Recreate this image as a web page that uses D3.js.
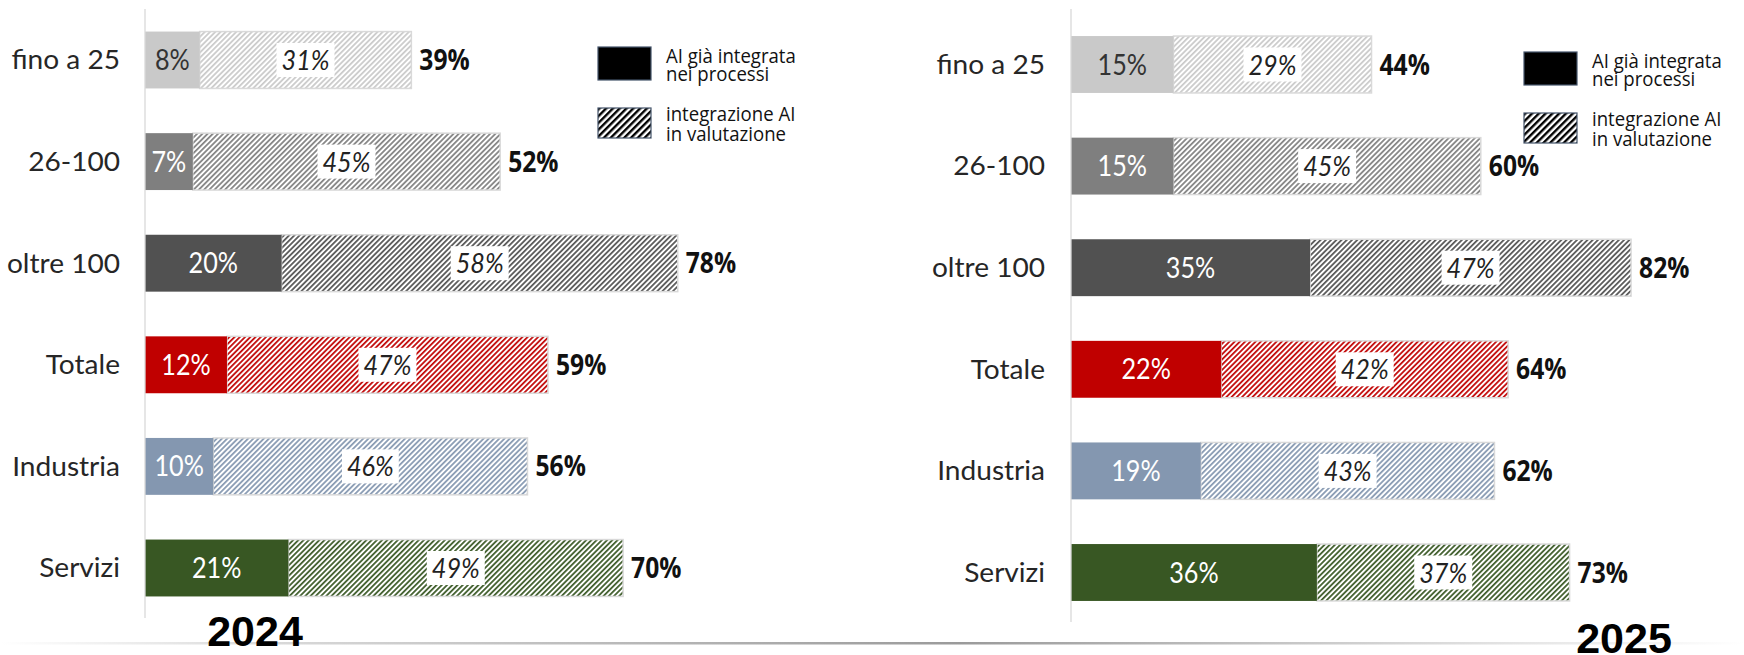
<!DOCTYPE html>
<html>
<head>
<meta charset="utf-8">
<title>AI nelle imprese 2024 - 2025</title>
<script src="https://d3js.org/d3.v7.min.js"></script>
<style>
    html, body { margin: 0; padding: 0; background: #fff; }
    svg { display: block; }
    .cat { font-family: Lato, "Open Sans", sans-serif; font-weight: 400; font-size: 26px; fill: #262626; }
    .seg { font-family: Lato, "Open Sans", sans-serif; font-weight: 400; font-size: 28px; }
    .tot { font-family: "Open Sans", sans-serif; font-weight: 700; font-size: 28px; fill: #111; }
    .leg { font-family: "Open Sans", sans-serif; font-size: 20px; fill: #111; }
    .year { font-family: "Liberation Sans", Arial, sans-serif; font-weight: 700; font-size: 43px; fill: #000; }
</style>
</head>
<body>
<svg id="chart" width="1744" height="655"></svg>
<script>
const categories = ['fino a 25', '26-100', 'oltre 100', 'Totale', 'Industria', 'Servizi'];
const barColors = ['#c9c9c9', '#7f7f7f', '#515151', '#c00000', '#8497b0', '#385723'];
const firstLabelColors = ['#333', '#fff', '#fff', '#fff', '#fff', '#fff'];

// 2024
const integrata2024 = [8, 7, 20, 12, 10, 21];
const valutazione2024 = [31, 45, 58, 47, 46, 49];
const totale2024 = [39, 52, 78, 59, 56, 70];
// 2025
const integrata2025 = [15, 15, 35, 22, 19, 36];
const valutazione2025 = [29, 45, 47, 42, 43, 37];
const totale2025 = [44, 60, 82, 64, 62, 73];

const legendLabels = [['AI già integrata', 'nei processi'], ['integrazione AI', 'in valutazione']];
const years = ['2024', '2025'];

const svg = d3.select('#chart');
const defs = svg.append('defs');

// hatch patterns, one per colour
barColors.forEach((c, i) => {
    const p = defs.append('pattern')
        .attr('id', `hatch${i}`)
        .attr('patternUnits', 'userSpaceOnUse')
        .attr('width', 3.7)
        .attr('height', 10)
        .attr('patternTransform', 'rotate(45)');
    p.append('rect').attr('width', 3.7).attr('height', 10).attr('fill', '#fff');
    p.append('line')
        .attr('x1', 0.9).attr('x2', 0.9).attr('y1', 0).attr('y2', 10)
        .attr('stroke', c).attr('stroke-width', 1.7);
});
const lp = defs.append('pattern')
    .attr('id', 'hatchLegend')
    .attr('patternUnits', 'userSpaceOnUse')
    .attr('width', 4.8)
    .attr('height', 10)
    .attr('patternTransform', 'rotate(45)');
lp.append('rect').attr('width', 4.8).attr('height', 10).attr('fill', '#fff');
lp.append('line')
    .attr('x1', 1.2).attr('x2', 1.2).attr('y1', 0).attr('y2', 10)
    .attr('stroke', '#000').attr('stroke-width', 2.4);

// faded rule at the bottom
const grad = defs.append('linearGradient').attr('id', 'rule');
grad.append('stop').attr('offset', '0').attr('stop-color', '#fff');
grad.append('stop').attr('offset', '0.15').attr('stop-color', '#dadada');
grad.append('stop').attr('offset', '0.55').attr('stop-color', '#9a9a9a');
grad.append('stop').attr('offset', '0.85').attr('stop-color', '#e0e0e0');
grad.append('stop').attr('offset', '1').attr('stop-color', '#fff');
svg.append('rect')
    .attr('x', 0).attr('y', 642).attr('width', 1744).attr('height', 2.5)
    .attr('fill', 'url(#rule)');

function text(g, x, y, str, cls, sx, anchor) {
    return g.append('text')
        .attr('class', cls)
        .attr('transform', `translate(${x},${y}) scale(${sx},1)`)
        .attr('text-anchor', anchor || 'middle')
        .text(str);
}

function drawPanel(cfg) {
    const g = svg.append('g');
    const x = d3.scaleLinear().domain([0, 100]).range([cfg.x0, cfg.x0 + 683]);
    const y = d3.scaleBand()
        .domain(categories)
        .range(cfg.yRange)
        .paddingInner(0.44)
        .paddingOuter(0.22);
    const bh = y.bandwidth();

    const rows = categories.map((c, i) => ({
        cat: c, i,
        a: cfg.integrata[i], b: cfg.valutazione[i], t: cfg.totale[i]
    }));

    // hatched part (under), then solid part
    g.selectAll('rect.hatch')
        .data(rows)
        .join('rect')
        .attr('class', 'hatch')
        .attr('x', d => x(d.a))
        .attr('y', d => y(d.cat))
        .attr('width', d => x(d.a + d.b) - x(d.a))
        .attr('height', bh)
        .attr('fill', d => `url(#hatch${d.i})`)
        .attr('stroke', '#d9d9d9')
        .attr('stroke-width', 1.5);
    g.selectAll('rect.solid')
        .data(rows)
        .join('rect')
        .attr('class', 'solid')
        .attr('x', x(0))
        .attr('y', d => y(d.cat))
        .attr('width', d => x(d.a) - x(0))
        .attr('height', bh)
        .attr('fill', d => barColors[d.i]);

    // axis with category labels
    const axis = g.append('g')
        .attr('transform', `translate(${x(0)},0)`)
        .call(d3.axisLeft(y).tickSize(0).tickPadding(0).tickSizeOuter(0));
    axis.attr('font-family', null).attr('font-size', null);
    axis.select('.domain').attr('stroke', '#d9d9d9').attr('stroke-width', 1.3)
        .attr('d', `M0,${cfg.axisTop}V${cfg.axisBottom}`);
    axis.selectAll('.tick text')
        .attr('class', 'cat')
        .attr('fill', null)
        .attr('x', null)
        .attr('dy', '0.36em')
        .attr('transform', `translate(${-cfg.labelPad},0) scale(1.08,1)`);

    rows.forEach(d => {
        const cy = y(d.cat) + bh / 2;
        // solid label
        text(g, (x(0) + x(d.a)) / 2, cy + 10, `${d.a}%`, 'seg', 0.9)
            .attr('fill', firstLabelColors[d.i]);
        // hatched label with white box
        const cx = (x(d.a) + x(d.a + d.b)) / 2;
        const box = g.append('rect').attr('fill', '#fff');
        const t = text(g, cx, cy + 10, `${d.b}%`, 'seg', 0.9)
            .attr('fill', '#222')
            .attr('font-style', 'italic');
        const w = t.node().getBBox().width * 0.9 + 10;
        box.attr('x', cx - w / 2).attr('y', cy - 17).attr('width', w).attr('height', 34);
        // total
        text(g, x(d.a + d.b) + 8, cy + 10, `${d.t}%`, 'tot', 0.88, 'start');
    });

    // legend
    const lg = g.append('g').attr('transform', `translate(${cfg.legend[0]},${cfg.legend[1]})`);
    lg.append('rect').attr('x', 0).attr('y', 0).attr('width', 53).attr('height', 33)
        .attr('fill', '#000').attr('stroke', '#44546a').attr('stroke-width', 1.2);
    lg.append('rect').attr('x', 0).attr('y', 61).attr('width', 53).attr('height', 30)
        .attr('fill', 'url(#hatchLegend)').attr('stroke', '#44546a').attr('stroke-width', 1.2);
    [[0, 16], [0, 34], [1, 74], [1, 94]].forEach(([k, yy], j) => {
        text(lg, 68, yy, legendLabels[k][j % 2], 'leg', 0.93, 'start');
    });

    text(g, cfg.yearPos[0], cfg.yearPos[1], cfg.year, 'year', 1);
}

drawPanel({
    x0: 145, yRange: [9.2, 618.8], axisTop: 9, axisBottom: 618, labelPad: 25,
    integrata: integrata2024, valutazione: valutazione2024, totale: totale2024,
    legend: [598, 47], year: years[0], yearPos: [255, 646]
});
drawPanel({
    x0: 1071, yRange: [13.7, 623.3], axisTop: 9, axisBottom: 622, labelPad: 26,
    integrata: integrata2025, valutazione: valutazione2025, totale: totale2025,
    legend: [1524, 52], year: years[1], yearPos: [1624, 653]
});
</script>
</body>
</html>
